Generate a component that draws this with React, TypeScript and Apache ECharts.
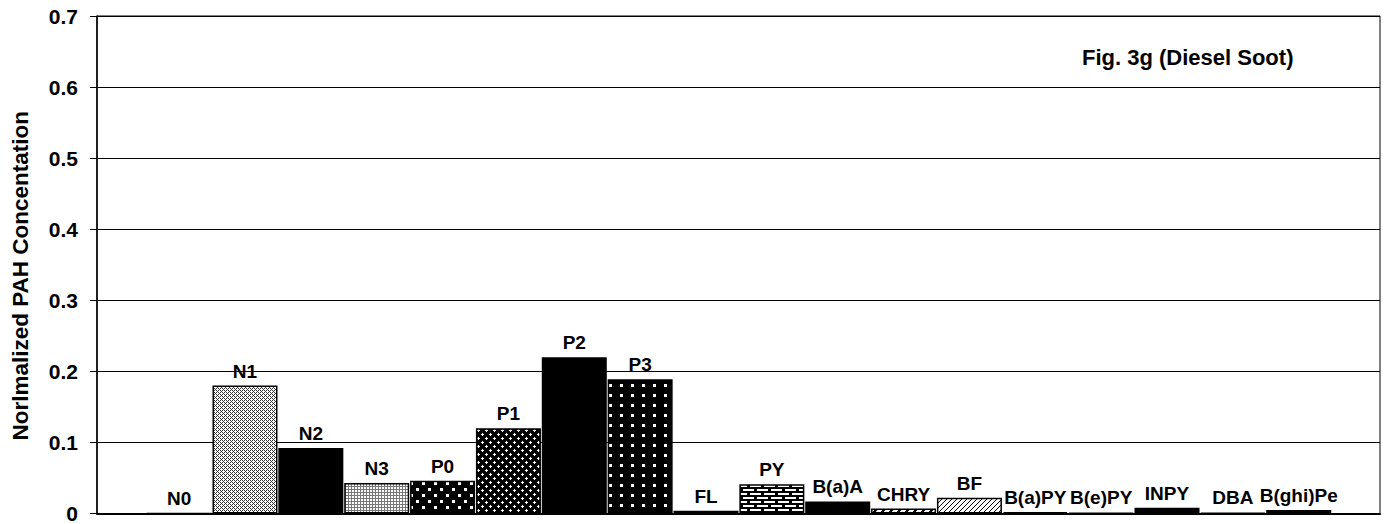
import React, { useEffect, useRef } from "react";
import * as echarts from "echarts";

const categories = ["N0", "N1", "N2", "N3", "P0", "P1", "P2", "P3", "FL", "PY", "B(a)A", "CHRY", "BF", "B(a)PY", "B(e)PY", "INPY", "DBA", "B(ghi)Pe"];
const values = [0, 0.18, 0.092, 0.043, 0.046, 0.12, 0.22, 0.189, 0.004, 0.041, 0.017, 0.007, 0.022, 0.002, 0.001, 0.008, 0.001, 0.005];
const yTicks = [0, 0.1, 0.2, 0.3, 0.4, 0.5, 0.6, 0.7];
const yAxisTitle = "Norlmalized PAH Concentation";
const figTitle = "Fig. 3g (Diesel Soot)";

// fill style per bar (style, not data)
const fills = ["solid", "checker", "solid", "grid", "dotsStagger", "diamond", "solid", "squares", "dotsWhite", "brick", "solid", "hatchWide", "hatchThin", "solid", "solid", "solid", "solid", "dotsWhite"];

function makePattern(w: number, h: number, bg: string, fg: string, fn: (x: number, y: number) => boolean) {
  const c = document.createElement("canvas");
  c.width = w;
  c.height = h;
  const ctx = c.getContext("2d")!;
  ctx.fillStyle = bg;
  ctx.fillRect(0, 0, w, h);
  ctx.fillStyle = fg;
  for (let y = 0; y < h; y++) for (let x = 0; x < w; x++) if (fn(x, y)) ctx.fillRect(x, y, 1, 1);
  return { image: c, repeat: "repeat", imageWidth: w, imageHeight: h } as any;
}

function buildFills(): Record<string, any> {
  return {
    solid: "#000",
    checker: makePattern(4, 4, "#fff", "#333", (x, y) => (x + y) % 2 === 0 && !(x === 1 && y === 1) && !(x === 3 && y === 3)),
    grid: makePattern(3, 3, "#fff", "#777", (x, y) => x === 0 || y === 0),
    dotsStagger: makePattern(12, 12, "#000", "#fff", (x, y) => (x >= 2 && x <= 4 && y >= 2 && y <= 4) || (x >= 8 && x <= 10 && y >= 8 && y <= 10)),
    diamond: makePattern(8, 8, "#000", "#fff", (x, y) => {
      const a = Math.abs(x - 2) + Math.abs(y - 2) <= 1;
      const b = Math.abs(x - 6) + Math.abs(y - 6) <= 1;
      return a || b;
    }),
    squares: makePattern(11, 10, "#000", "#fff", (x, y) => x >= 4 && x <= 6 && y >= 4 && y <= 6),
    dotsWhite: makePattern(4, 4, "#000", "#fff", (x, y) => x === 1 && y === 1),
    brick: makePattern(14, 8, "#000", "#fff", (x, y) => (y >= 1 && y <= 2 && x >= 1 && x <= 11) || (y >= 5 && y <= 6 && (x >= 8 || x <= 4))),
    hatchWide: makePattern(8, 8, "#fff", "#000", (x, y) => (x + y) % 8 < 3),
    hatchThin: makePattern(5, 5, "#fff", "#000", (x, y) => (x + y) % 5 === 0),
  };
}

export default function App() {
  const ref = useRef<HTMLDivElement>(null);
  useEffect(() => {
    if (!ref.current) return;
    const chart = echarts.init(ref.current, null, { renderer: "svg" });
    const fillMap = buildFills();
    const font = "'Liberation Sans', Arial, sans-serif";
    chart.setOption({
      animation: false,
      backgroundColor: "#fff",
      title: {
        text: figTitle,
        left: 1077,
        top: 41,
        textStyle: { fontFamily: font, fontWeight: "bold", fontSize: 22, color: "#000" },
      },
      grid: {
        left: 97,
        width: 1283,
        top: 16,
        height: 504,
        show: true,
        borderColor: "#000",
        borderWidth: 1,
        backgroundColor: "transparent",
      },
      xAxis: {
        type: "value",
        min: -1.247,
        max: 18.234,
        axisLine: { show: true, onZero: false, lineStyle: { color: "#000", width: 2 } },
        axisTick: { show: false },
        axisLabel: { show: false },
        splitLine: { show: false },
      },
      yAxis: {
        type: "value",
        min: yTicks[0],
        max: yTicks[yTicks.length - 1],
        interval: 0.1,
        name: yAxisTitle,
        nameLocation: "middle",
        nameGap: 65,
        nameTextStyle: {
          fontFamily: font,
          fontWeight: "bold",
          fontSize: 22.5,
          color: "#000",
          padding: [0, 22, 0, 0],
        },
        axisLine: { show: true, onZero: false, lineStyle: { color: "#000", width: 1.5 } },
        axisTick: { show: true, length: 7, lineStyle: { color: "#000" } },
        axisLabel: {
          fontFamily: font,
          fontWeight: "bold",
          fontSize: 21,
          color: "#000",
          margin: 19,
          formatter: (v: number) => (v === 0 ? "0" : v.toFixed(1)),
        },
        splitLine: { show: true, lineStyle: { color: "#000", width: 1 } },
      },
      series: [
        {
          type: "bar",
          barWidth: 65,
          data: values.map((v, i) => ({
            value: [i, v],
            itemStyle: { color: fillMap[fills[i]], borderColor: "#000", borderWidth: 1.5 },
          })),
          label: {
            show: true,
            position: "top",
            distance: 5,
            fontFamily: font,
            fontWeight: "bold",
            fontSize: 19,
            color: "#000",
            formatter: (p: any) => categories[p.dataIndex],
          },
        },
      ],
    });
    return () => chart.dispose();
  }, []);
  return <div ref={ref} style={{ position: "fixed", left: 0, top: 0, width: 1388, height: 524, background: "#fff" }} />;
}
